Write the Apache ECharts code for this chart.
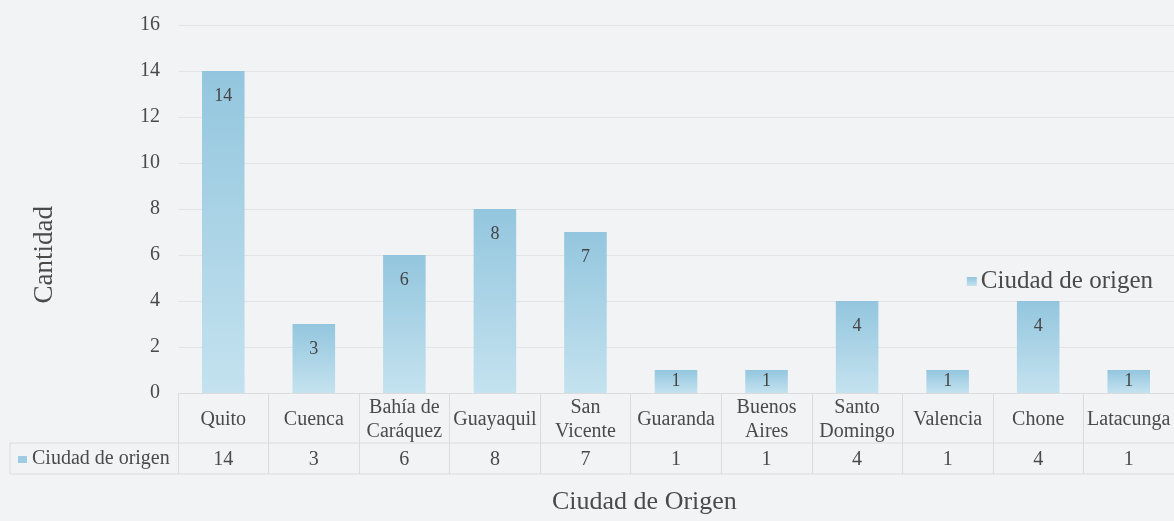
<!DOCTYPE html>
<html>
<head>
<meta charset="utf-8">
<script src="https://cdn.jsdelivr.net/npm/echarts@6/dist/echarts.min.js"></script>
<style>
  html, body { margin: 0; padding: 0; background: #f2f3f5; }
  #chart { width: 1174px; height: 521px; }
</style>
</head>
<body>
<div id="chart"></div>
<script>
  const categories = ['Quito', 'Cuenca', 'Bahía de Caráquez', 'Guayaquil', 'San Vicente', 'Guaranda',
    'Buenos Aires', 'Santo Domingo', 'Valencia', 'Chone', 'Latacunga']
  const values = [14, 3, 6, 8, 7, 1, 1, 4, 1, 4, 1]
  const seriesName = 'Ciudad de origen'
  const yTicks = {min: 0, max: 16, interval: 2}

  const font = '"Liberation Serif", "Times New Roman", serif'
  const textColor = '#4a4a4a'
  const lineColor = '#dcdcdc'

  // last space becomes a line break, like the two-line labels of the table
  function wrap(name) {
    let i = name.lastIndexOf(' ')
    return i < 0 ? name : name.slice(0, i) + '\n' + name.slice(i + 1)
  }

  let barData = values.map(function (v) {
    return {
      value: v,
      label: v <= 1 ? {position: 'inside'} : {position: 'insideTop', distance: 16}
    }
  })

  let option = {
    backgroundColor: '#f2f3f5',
    textStyle: {fontFamily: font},
    animation: false,
    grid: {left: 178, right: -10, top: 25, bottom: 128},
    legend: {
      data: [seriesName],
      right: 16, top: 264,
      icon: 'rect', itemWidth: 10, itemHeight: 9, itemGap: 4,
      textStyle: {color: textColor, fontSize: 25, fontFamily: font, padding: [0, 0, 0, -1]}
    },
    xAxis: [
      {
        type: 'category',
        data: categories,
        axisLine: {show: true, lineStyle: {color: lineColor, width: 1}},
        axisTick: {show: true, length: 81, lineStyle: {color: lineColor}},
        axisLabel: {
          interval: 0, margin: 27, verticalAlign: 'middle',
          color: textColor, fontSize: 20, lineHeight: 24, fontFamily: font,
          formatter: wrap
        }
      },
      {
        type: 'category',
        data: values.map(String),
        position: 'bottom',
        offset: 50,
        axisLine: {show: false},
        axisTick: {show: false},
        axisLabel: {
          interval: 0, margin: 17, verticalAlign: 'middle',
          color: textColor, fontSize: 20, fontFamily: font
        }
      }
    ],
    yAxis: {
      type: 'value',
      min: yTicks.min, max: yTicks.max, interval: yTicks.interval,
      axisLine: {show: false},
      axisTick: {show: false},
      axisLabel: {color: textColor, fontSize: 20, margin: 18, fontFamily: font},
      splitLine: {lineStyle: {color: '#e2e3e5', width: 1}}
    },
    series: [{
      name: seriesName,
      type: 'bar',
      xAxisIndex: 0,
      data: barData,
      barWidth: '47%',
      itemStyle: {
        color: new echarts.graphic.LinearGradient(0, 0, 0, 1, [
          {offset: 0, color: '#93c6de'},
          {offset: 1, color: '#c4e2ef'}
        ])
      },
      label: {show: true, color: '#444', fontSize: 18, fontFamily: font}
    }],
    graphic: [
      // table borders
      {type: 'line', shape: {x1: 10, y1: 443, x2: 1174, y2: 443}, style: {stroke: lineColor, lineWidth: 1}},
      {type: 'line', shape: {x1: 10, y1: 474, x2: 1174, y2: 474}, style: {stroke: lineColor, lineWidth: 1}},
      {type: 'line', shape: {x1: 10, y1: 443, x2: 10, y2: 474}, style: {stroke: lineColor, lineWidth: 1}},
      // legend key of the table row
      {type: 'rect', shape: {x: 18, y: 456, width: 9, height: 7}, style: {fill: '#9fcce2'}},
      {
        type: 'text', left: 32, top: 449,
        style: {text: seriesName, fill: textColor, fontSize: 20, fontFamily: font}
      },
      // axis titles
      {
        type: 'text', left: 31, top: 206, rotation: Math.PI / 2,
        style: {text: 'Cantidad', fill: textColor, fontSize: 27, fontFamily: font}
      },
      {
        type: 'text', left: 552, top: 489,
        style: {text: 'Ciudad de Origen', fill: textColor, fontSize: 26, fontFamily: font}
      }
    ]
  }

  let myChart = echarts.init(document.getElementById('chart'))
  myChart.setOption(option)
</script>
</body>
</html>
